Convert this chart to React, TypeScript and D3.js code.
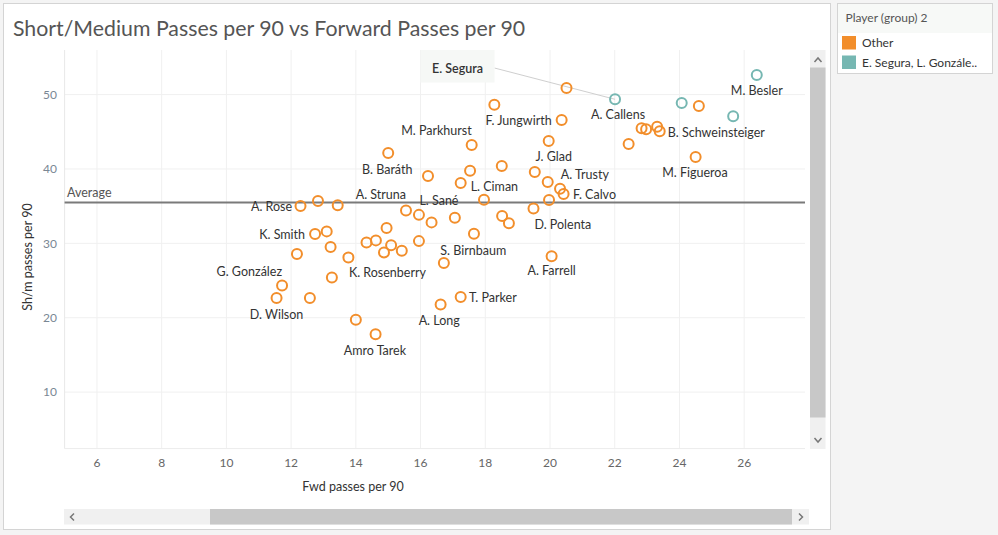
import { useEffect, useRef } from "react";
import * as d3 from "d3";

// "Other" group: forward passes per 90, short/medium passes per 90, label
const OTHER_FWD = [
  20.51, 18.28, 20.36, 19.96, 17.58, 15.0, 17.53, 18.51, 16.23, 19.53,
  19.93, 17.24, 20.31, 20.42, 19.97, 17.96, 22.83, 22.97, 23.31, 23.39,
  22.43, 24.5, 24.6, 12.29, 12.83, 13.44, 15.55, 15.95, 16.34, 17.06,
  18.52, 18.73, 19.49, 14.95, 12.74, 13.1, 14.33, 14.62, 15.09, 14.87,
  15.42, 15.95, 17.65, 13.22, 12.18, 13.77, 13.26, 16.72, 20.05, 11.72,
  11.55, 12.58, 14.0, 14.61, 17.24, 16.62,
];
const OTHER_SHM = [
  50.89, 48.65, 46.58, 43.76, 43.22, 42.14, 39.75, 40.39, 39.05, 39.59,
  38.24, 38.11, 37.35, 36.63, 35.82, 35.85, 45.47, 45.33, 45.69, 45.06,
  43.35, 41.61, 48.47, 35.01, 35.69, 35.11, 34.43, 33.83, 32.82, 33.43,
  33.69, 32.69, 34.7, 32.05, 31.27, 31.61, 30.13, 30.4, 29.73, 28.78,
  28.99, 30.3, 31.3, 29.5, 28.58, 28.11, 25.42, 27.37, 28.25, 24.34,
  22.66, 22.66, 19.73, 17.79, 22.77, 21.79,
];
const OTHER_NAMES = [
  "", "", "F. Jungwirth", "J. Glad", "M. Parkhurst", "B. Baráth", "", "", "", "",
  "A. Trusty", "L. Ciman", "", "F. Calvo", "", "L. Sané", "", "", "", "B. Schweinsteiger",
  "", "M. Figueroa", "", "A. Rose", "", "", "A. Struna", "", "", "",
  "", "", "D. Polenta", "", "K. Smith", "", "", "", "", "",
  "", "", "S. Birnbaum", "", "", "", "K. Rosenberry", "", "A. Farrell", "G. González",
  "D. Wilson", "", "", "Amro Tarek", "T. Parker", "A. Long",
];

// highlighted group
const GROUP_FWD = [22.01, 24.07, 25.66, 26.39];
const GROUP_SHM = [49.37, 48.87, 47.08, 52.64];
const GROUP_NAMES = ["A. Callens", "", "", "M. Besler"];

const AVERAGE_SHM = 35.5;
const ANNOTATED = "A. Callens"; // point the "E. Segura" callout is tied to
const X_TICKS = [6, 8, 10, 12, 14, 16, 18, 20, 22, 24, 26];
const Y_TICKS = [10, 20, 30, 40, 50];
const LEGEND_ITEMS = ["Other", "E. Segura, L. Gonzále.."];

const ORANGE = "#f28e2b";
const TEAL = "#76b7b2";
const FONT = "Lato, 'Open Sans', sans-serif";

// label placement relative to its mark: [anchor, dx, dy]
const LABEL_POS: Record<string, [string, number, number]> = {
  "F. Jungwirth": ["end", -10, 0.5],
  "J. Glad": ["middle", 5, 16],
  "M. Parkhurst": ["end", 0, -14],
  "B. Baráth": ["middle", -1, 16.5],
  "A. Trusty": ["start", 13, -7.5],
  "L. Ciman": ["start", 10, 4],
  "F. Calvo": ["start", 9.5, 1],
  "L. Sané": ["end", -25.5, 0.5],
  "B. Schweinsteiger": ["start", 8, 1],
  "M. Figueroa": ["middle", -0.7, 16],
  "A. Rose": ["end", -8.4, 0.3],
  "A. Struna": ["end", 0, -16],
  "D. Polenta": ["start", 1, 16],
  "K. Smith": ["end", -10, 1.2],
  "S. Birnbaum": ["middle", -0.7, 16.7],
  "K. Rosenberry": ["start", 17, -5],
  "A. Farrell": ["middle", 0, 14.7],
  "G. González": ["end", 0, -14.3],
  "D. Wilson": ["middle", 0, 16.2],
  "Amro Tarek": ["middle", -0.7, 16.3],
  "T. Parker": ["start", 8.2, 1],
  "A. Long": ["middle", -1.4, 16],
  "A. Callens": ["middle", 3, 15],
  "M. Besler": ["middle", 0, 15.3],
};

type Pt = { fwd: number; shm: number; name: string; group: number };

export default function App() {
  const ref = useRef<SVGSVGElement>(null);

  useEffect(() => {
    if (!ref.current) return;
    const svg = d3.select(ref.current);
    svg.selectAll("*").remove();

    const W = 998, H = 535;
    const L = 64.6, R = 805, T = 50, B = 448.6;

    const x = d3.scaleLinear().domain([5, 27.88]).range([L, R]);
    const y = d3.scaleLinear().domain([2.4, 56]).range([B, T]);

    const pts: Pt[] = [
      ...OTHER_FWD.map((f, i) => ({ fwd: f, shm: OTHER_SHM[i], name: OTHER_NAMES[i], group: 0 })),
      ...GROUP_FWD.map((f, i) => ({ fwd: f, shm: GROUP_SHM[i], name: GROUP_NAMES[i], group: 1 })),
    ];

    svg.append("rect").attr("width", W).attr("height", H).attr("fill", "#f4f4f4");

    // main panel
    svg.append("rect")
      .attr("x", 3.5).attr("y", 3.5).attr("width", 827).attr("height", 526)
      .attr("fill", "#fff").attr("stroke", "#d4d4d4");

    svg.append("text")
      .attr("x", 13).attr("y", 35.5)
      .attr("font-family", FONT).attr("font-size", 21.3).attr("fill", "#555")
      .text("Short/Medium Passes per 90 vs Forward Passes per 90");

    // gridlines
    const g = svg.append("g");
    g.selectAll("line.vx").data(X_TICKS).enter().append("line")
      .attr("x1", (d) => x(d)).attr("x2", (d) => x(d))
      .attr("y1", T).attr("y2", B)
      .attr("stroke", "#f0f0f0").attr("stroke-width", 1);
    g.selectAll("line.hy").data(Y_TICKS).enter().append("line")
      .attr("x1", L).attr("x2", R)
      .attr("y1", (d) => y(d)).attr("y2", (d) => y(d))
      .attr("stroke", "#f0f0f0").attr("stroke-width", 1);
    g.append("line").attr("x1", L).attr("x2", L).attr("y1", T).attr("y2", B)
      .attr("stroke", "#e8e8e8");
    g.append("line").attr("x1", L).attr("x2", R).attr("y1", B).attr("y2", B)
      .attr("stroke", "#ececec");

    // tick labels
    svg.selectAll("text.xt").data(X_TICKS).enter().append("text")
      .attr("x", (d) => x(d)).attr("y", 467)
      .attr("text-anchor", "middle")
      .attr("font-family", FONT).attr("font-size", 12).attr("fill", "#666")
      .text((d) => d);
    svg.selectAll("text.yt").data(Y_TICKS).enter().append("text")
      .attr("x", 57).attr("y", (d) => y(d))
      .attr("dy", "0.35em")
      .attr("text-anchor", "end")
      .attr("font-family", FONT).attr("font-size", 12).attr("fill", "#7a8794")
      .text((d) => d);

    svg.append("text")
      .attr("x", 353).attr("y", 491)
      .attr("text-anchor", "middle")
      .attr("font-family", FONT).attr("font-size", 12.5).attr("fill", "#333")
      .text("Fwd passes per 90");
    svg.append("text")
      .attr("transform", "translate(32,257) rotate(-90)")
      .attr("text-anchor", "middle")
      .attr("font-family", FONT).attr("font-size", 12.5).attr("fill", "#333")
      .text("Sh/m passes per 90");

    // average reference line
    svg.append("line")
      .attr("x1", L).attr("x2", R)
      .attr("y1", y(AVERAGE_SHM)).attr("y2", y(AVERAGE_SHM))
      .attr("stroke", "#7a7a7a").attr("stroke-width", 2);
    svg.append("text")
      .attr("x", 67).attr("y", y(AVERAGE_SHM) - 5)
      .attr("font-family", FONT).attr("font-size", 12.5).attr("fill", "#555")
      .text("Average");

    // E. Segura callout
    const tgt = pts.find((p) => p.name === ANNOTATED)!;
    svg.append("line")
      .attr("x1", 494.5).attr("y1", 68)
      .attr("x2", x(tgt.fwd)).attr("y2", y(tgt.shm))
      .attr("stroke", "#cfcfcf").attr("stroke-width", 1);
    svg.append("rect")
      .attr("x", 420.5).attr("y", T).attr("width", 74).attr("height", 32.5)
      .attr("fill", "#f6f8f6");
    svg.append("text")
      .attr("x", 457.5).attr("y", 68.5).attr("dy", "0.35em")
      .attr("text-anchor", "middle")
      .attr("font-family", FONT).attr("font-size", 12.5).attr("font-weight", 600)
      .attr("fill", "#333")
      .text("E. Segura");

    // marks
    svg.append("g").selectAll("circle").data(pts).enter().append("circle")
      .attr("cx", (d) => x(d.fwd)).attr("cy", (d) => y(d.shm))
      .attr("r", 5)
      .attr("fill", "none")
      .attr("stroke", (d) => (d.group ? TEAL : ORANGE))
      .attr("stroke-width", 2);

    // labels
    svg.append("g").selectAll("text").data(pts.filter((p) => p.name)).enter().append("text")
      .attr("x", (d) => x(d.fwd) + LABEL_POS[d.name][1])
      .attr("y", (d) => y(d.shm) + LABEL_POS[d.name][2])
      .attr("dy", "0.35em")
      .attr("text-anchor", (d) => LABEL_POS[d.name][0])
      .attr("font-family", FONT).attr("font-size", 12.5).attr("fill", "#333")
      .text((d) => d.name);

    // vertical scrollbar
    svg.append("rect").attr("x", 810).attr("y", T).attr("width", 15.5).attr("height", B - T + 0.4)
      .attr("fill", "#f0f0f0");
    svg.append("rect").attr("x", 810).attr("y", 67.5).attr("width", 15.5).attr("height", 350)
      .attr("fill", "#c8c8c8");
    svg.append("path").attr("d", "M814.5,62 L818,58 L821.5,62")
      .attr("fill", "none").attr("stroke", "#777").attr("stroke-width", 1.5);
    svg.append("path").attr("d", "M814.5,438 L818,442 L821.5,438")
      .attr("fill", "none").attr("stroke", "#777").attr("stroke-width", 1.5);

    // horizontal scrollbar
    svg.append("rect").attr("x", 64).attr("y", 509).attr("width", 745).attr("height", 15.5)
      .attr("fill", "#f0f0f0");
    svg.append("rect").attr("x", 210).attr("y", 509).attr("width", 582).attr("height", 15.5)
      .attr("fill", "#c8c8c8");
    svg.append("path").attr("d", "M74,513.5 L70.5,517 L74,520.5")
      .attr("fill", "none").attr("stroke", "#777").attr("stroke-width", 1.5);
    svg.append("path").attr("d", "M799,513.5 L802.5,517 L799,520.5")
      .attr("fill", "none").attr("stroke", "#777").attr("stroke-width", 1.5);

    // legend
    svg.append("rect").attr("x", 837.5).attr("y", 3.5).attr("width", 155).attr("height", 70)
      .attr("fill", "#fff").attr("stroke", "#d4d4d4");
    svg.append("rect").attr("x", 838).attr("y", 4).attr("width", 154).attr("height", 29)
      .attr("fill", "#f7f9f7");
    svg.append("text")
      .attr("x", 845.5).attr("y", 17.5).attr("dy", "0.35em")
      .attr("font-family", FONT).attr("font-size", 12).attr("fill", "#555")
      .text("Player (group) 2");
    const leg = svg.append("g").selectAll("g").data(LEGEND_ITEMS).enter().append("g")
      .attr("transform", (_d, i) => `translate(842,${36 + i * 19.5})`);
    leg.append("rect").attr("width", 14).attr("height", 13.5)
      .attr("fill", (_d, i) => (i ? TEAL : ORANGE));
    leg.append("text").attr("x", 20).attr("y", 6.8).attr("dy", "0.35em")
      .attr("font-family", FONT).attr("font-size", 12).attr("fill", "#333")
      .text((d) => d);
  }, []);

  return (
    <div style={{ position: "fixed", left: 0, top: 0 }}>
      <svg ref={ref} width={998} height={535} style={{ display: "block" }} />
    </div>
  );
}
